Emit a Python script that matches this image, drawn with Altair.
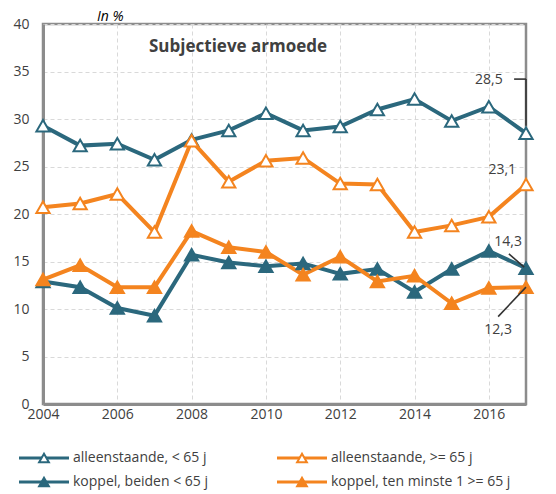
import altair as alt
import pandas as pd

years = list(range(2004, 2018))
series = ["alleenstaande, < 65 j", "alleenstaande, >= 65 j",
          "koppel, beiden < 65 j", "koppel, ten minste 1 >= 65 j"]
als_lt65 = [29.3, 27.2, 27.4, 25.7, 27.8, 28.8, 30.6, 28.8, 29.2, 31.0, 32.1, 29.8, 31.3, 28.5]
als_ge65 = [20.7, 21.1, 22.1, 18.1, 27.7, 23.4, 25.6, 25.9, 23.2, 23.1, 18.1, 18.8, 19.7, 23.1]
kop_lt65 = [12.9, 12.3, 10.1, 9.3, 15.7, 14.9, 14.5, 14.8, 13.7, 14.2, 11.8, 14.2, 16.1, 14.3]
kop_ge65 = [13.1, 14.6, 12.3, 12.3, 18.2, 16.5, 16.0, 13.6, 15.5, 12.9, 13.5, 10.6, 12.2, 12.3]
values = [als_lt65, als_ge65, kop_lt65, kop_ge65]

x_ticks = [2004, 2006, 2008, 2010, 2012, 2014, 2016]
y_ticks = [0, 5, 10, 15, 20, 25, 30, 35, 40]

ann_labels = ["28,5", "23,1", "14,3", "12,3"]
ann_x = [2016.0, 2016.36, 2016.52, 2016.25]
ann_y = [34.1, 24.6, 17.05, 7.8]
lead_x = [2016.68, 2017.0, 2016.54, 2016.25]
lead_y = [34.2, 34.2, 15.8, 9.2]
lead_x2 = [2017.0, 2017.0, 2016.95, 2017.0]
lead_y2 = [34.2, 29.3, 14.4, 12.3]

TEAL = "#2b687d"
ORANGE = "#f4841f"
stroke_range = [TEAL, ORANGE, TEAL, ORANGE]
fill_range = ["white", "white", TEAL, ORANGE]
FONT = "Open Sans"
TXT = "#404040"

rows = []
for s, vals in zip(series, values):
    for y, v in zip(years, vals):
        rows.append({"jaar": y, "waarde": v, "reeks": s})
df = pd.DataFrame(rows)
draw_order = {series[0]: 0, series[2]: 1, series[1]: 2, series[3]: 3}
df["ord"] = df["reeks"].map(draw_order)
df = df.sort_values(["ord", "jaar"])

x_enc = alt.X("jaar:Q", scale=alt.Scale(domain=[2004, 2017], nice=False, zero=False),
              axis=alt.Axis(values=x_ticks, format="d", title=None, ticks=False,
                            labelPadding=3, minExtent=18, maxExtent=18,
                            labelFlush=False))
y_enc = alt.Y("waarde:Q", scale=alt.Scale(domain=[0, 40], nice=False),
              axis=alt.Axis(values=y_ticks, title=None, ticks=False, labelPadding=14,
                            minExtent=33, maxExtent=33))

stroke_scale = alt.Scale(domain=series, range=stroke_range)
fill_scale = alt.Scale(domain=series, range=fill_range)

base = alt.Chart(df)
lines = base.mark_line(strokeWidth=4).encode(
    x=x_enc, y=y_enc,
    color=alt.Color("reeks:N", scale=stroke_scale, legend=None),
    detail="reeks:N",
    order=alt.Order("jaar:Q"),
)
points = base.mark_point(shape="triangle-up", size=175, strokeWidth=2, opacity=1,
                         fillOpacity=1).encode(
    x="jaar:Q", y="waarde:Q",
    stroke=alt.Stroke("reeks:N", scale=stroke_scale, legend=None),
    fill=alt.Fill("reeks:N", scale=fill_scale, legend=None),
    order=alt.Order("ord:Q"),
)

title_txt = alt.Chart(pd.DataFrame({"t": ["Subjectieve armoede"]})).mark_text(
    align="left", baseline="middle", font=FONT, fontSize=17, fontWeight="bold", color=TXT
).encode(x=alt.value(106), y=alt.value(23), text="t:N")

unit_txt = alt.Chart(pd.DataFrame({"t": ["In %"]})).mark_text(
    align="left", baseline="bottom", font=FONT, fontSize=14, fontStyle="italic",
    color="#000000"
).encode(x=alt.value(54), y=alt.value(0), text="t:N")

ann_df = pd.DataFrame({"label": ann_labels, "x": ann_x, "y": ann_y})
ann = alt.Chart(ann_df).mark_text(font=FONT, fontSize=14, color=TXT, baseline="middle",
                                  align="center").encode(
    x="x:Q", y="y:Q", text="label:N")

lead_df = pd.DataFrame({"x": lead_x, "y": lead_y, "x2": lead_x2, "y2": lead_y2})
leads = alt.Chart(lead_df).mark_rule(color="#333333", strokeWidth=1.6).encode(
    x="x:Q", y="y:Q", x2="x2:Q", y2="y2:Q")

main = alt.layer(lines, points, leads, ann, title_txt, unit_txt).properties(
    width=483, height=380,
)

leg_df = pd.DataFrame({"reeks": series, "col": [0, 1, 0, 1], "row": [0, 0, 1, 1]})
lx = alt.X("col:Q", scale=alt.Scale(domain=[0, 1], range=[1, 259]), axis=None)
ly = alt.Y("row:Q", scale=alt.Scale(domain=[0, 1], range=[12, 36]), axis=None)
lbase = alt.Chart(leg_df)
leg_line = lbase.mark_point(shape="M-1,0H1", size=2500, strokeWidth=3, filled=False,
                            opacity=1).encode(
    x=lx, y=ly, stroke=alt.Stroke("reeks:N", scale=stroke_scale, legend=None))
leg_tri = lbase.mark_point(shape="triangle-up", size=95, strokeWidth=2, opacity=1,
                           fillOpacity=1).encode(
    x="col:Q", y="row:Q",
    stroke=alt.Stroke("reeks:N", scale=stroke_scale, legend=None),
    fill=alt.Fill("reeks:N", scale=fill_scale, legend=None))
leg_txt = lbase.mark_text(align="left", baseline="middle", dx=29, font=FONT, fontSize=14,
                          color=TXT).encode(x="col:Q", y="row:Q", text="reeks:N")
legend = alt.layer(leg_line, leg_tri, leg_txt).properties(
    width=483, height=44, view=alt.ViewBackground(stroke="transparent"))

chart = alt.vconcat(main, legend, spacing=20).properties(padding=0).configure_view(
    stroke="#8c8c8c", strokeWidth=2.5
).configure_axis(
    domainColor="#8c8c8c", domainWidth=3, gridColor="#d9d9d9", gridDash=[4, 3],
    gridWidth=1, labelFont=FONT, labelFontSize=14, labelColor=TXT,
).configure_axisY(labelAlign="right")

chart.save("out.html", embed_options={"renderer": "svg", "actions": False})
